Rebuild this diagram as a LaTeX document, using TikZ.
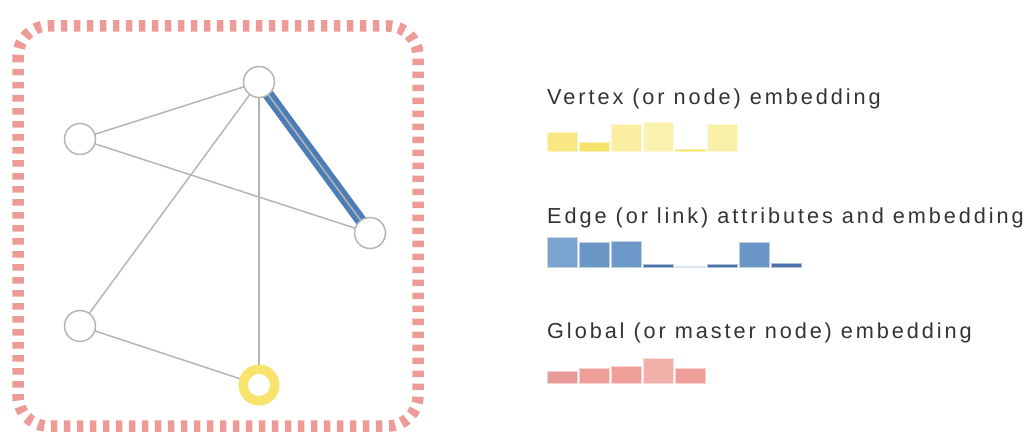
\documentclass[tikz,border=0pt]{standalone}
\usepackage{fontspec}
\newfontfamily\lab{Liberation Sans}[LetterSpace=13.5]
\definecolor{bordercol}{HTML}{EC9B97}
\definecolor{edgegray}{HTML}{B5B5B5}
\definecolor{edgeblue}{HTML}{4D7DB6}
\definecolor{ringyellow}{HTML}{F8E46C}
\definecolor{txt}{HTML}{333333}
\definecolor{ya}{HTML}{F9E784}
\definecolor{yb}{HTML}{F8E36A}
\definecolor{yc}{HTML}{FAEEA2}
\definecolor{yd}{HTML}{FBF2B0}
\definecolor{ye}{HTML}{F7E160}
\definecolor{yf}{HTML}{FAEFA6}
\definecolor{ba}{HTML}{7AA3CF}
\definecolor{bb}{HTML}{6B97C6}
\definecolor{bc}{HTML}{6B98C8}
\definecolor{bd}{HTML}{4A74A8}
\definecolor{be}{HTML}{B0C4DC}
\definecolor{bf}{HTML}{4A72A8}
\definecolor{bg}{HTML}{6996C6}
\definecolor{bh}{HTML}{4A72A8}
\definecolor{ra}{HTML}{E89B98}
\definecolor{rb}{HTML}{EF9D98}
\definecolor{rc}{HTML}{EF9E98}
\definecolor{rd}{HTML}{F2B0AB}
\definecolor{re}{HTML}{EF9D98}
\tikzset{
  vtx/.style={circle, draw=edgegray, line width=1.5pt, fill=white, minimum size=31pt, inner sep=0pt},
  ring/.style={circle, draw=ringyellow, line width=9.5pt, fill=white, minimum size=31.5pt, inner sep=0pt},
  gedge/.style={draw=edgegray, line width=1.5pt},
  bedge/.style={draw=edgeblue, line width=11.5pt},
  label/.style={anchor=base west, inner sep=0pt, text=txt, font=\lab\fontsize{21.7}{26}\selectfont},
  bar/.style={fill=#1, draw=#1!45!white, line width=1pt}
}
\begin{document}
\begin{tikzpicture}[x=1pt,y=-1pt]
\useasboundingbox (0,0) rectangle (1034,444);
% border
\draw[bordercol, line width=11.5pt, dash pattern=on 6.5pt off 6.5pt, rounded corners=30pt] (18,26) rectangle (418,426);
% node coordinates
\coordinate (pt) at (259,82);
\coordinate (pl) at (80,139);
\coordinate (pr) at (370,233);
\coordinate (pb) at (80,326);
\coordinate (py) at (259,385);
% edges
\draw[bedge] (pt) -- (pr);
\draw[gedge] (pl) -- (pt);
\draw[gedge] (pl) -- (pr);
\draw[gedge] (pt) -- (pb);
\draw[gedge] (pt) -- (py);
\draw[gedge] (pt) -- (pr);
\draw[gedge] (pb) -- (py);
% nodes
\node[vtx] (nt) at (pt) {};
\node[vtx] (nl) at (pl) {};
\node[vtx] (nr) at (pr) {};
\node[vtx] (nb) at (pb) {};
\node[ring] (ny) at (py) {};
% labels
\node[label] (lv) at (547,105) {Vertex (or node) embedding};
\node[label] (le) at (547,223) {Edge (or link) attributes and embedding};
\node[label] (lg) at (547,338) {Global (or master node) embedding};
% yellow bars
\foreach \c/\t [count=\i from 0] in {ya/132,yb/142,yc/124,yd/122,ye/149,yf/124}
  \path[bar=\c] ({547+32*\i},\t) rectangle ({577+32*\i},151);
% blue bars
\foreach \c/\t [count=\i from 0] in {ba/237,bb/242,bc/241,bd/264,be/266,bf/264,bg/242,bh/263}
  \path[bar=\c] ({547+32*\i},\t) rectangle ({577+32*\i},267);
% red bars
\foreach \c/\t [count=\i from 0] in {ra/371,rb/368,rc/366,rd/358,re/368}
  \path[bar=\c] ({547+32*\i},\t) rectangle ({577+32*\i},383);
\end{tikzpicture}
\end{document}
